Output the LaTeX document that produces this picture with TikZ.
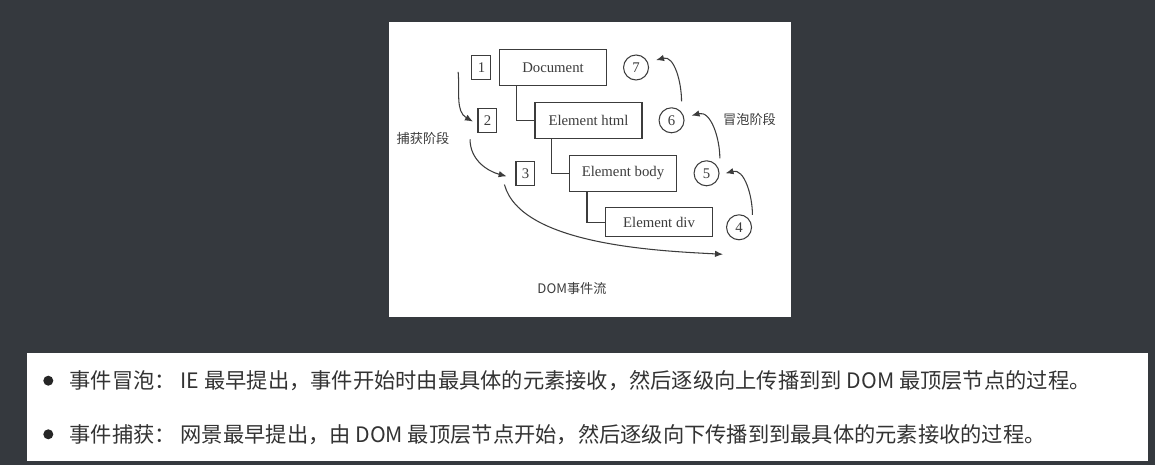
\documentclass[tikz,border=0pt]{standalone}
\usepackage{fontspec}
\setmainfont{Liberation Serif}
\newfontfamily\cjkfont{Noto Sans CJK SC}
\usetikzlibrary{arrows.meta,positioning,calc}
\definecolor{pagedark}{HTML}{35393E}
\definecolor{inkgray}{HTML}{333333}
\definecolor{linegray}{HTML}{3C3C3C}

\begin{document}
\begin{tikzpicture}[
  x=0.02cm, y=0.02cm,
  treebox/.style={draw=linegray, line width=0.6pt, minimum width=2.14cm, minimum height=0.72cm,
                  inner sep=0pt, font=\fontsize{8.4}{10}\selectfont, text=linegray},
  numbox/.style={draw=linegray, line width=0.6pt, minimum width=0.38cm, minimum height=0.47cm,
                 inner sep=0pt, font=\fontsize{8.4}{10}\selectfont, text=linegray},
  numcirc/.style={circle, draw=linegray, line width=0.6pt, minimum size=0.5cm,
                  inner sep=0pt, font=\fontsize{8.4}{10}\selectfont, text=linegray},
  phase/.style={inner sep=0pt, font=\cjkfont\fontsize{7.5}{9}\selectfont, text=linegray},
  flow/.style={-{Latex[length=1.6mm,width=1.3mm]}, line width=0.6pt, draw=linegray},
  link/.style={draw=linegray, line width=0.6pt},
  bullet/.style={circle, fill=black!85, minimum size=0.2cm, inner sep=0pt},
  note/.style={anchor=west, inner sep=0pt, font=\cjkfont\fontsize{12.1}{15}\selectfont, text=inkgray}
]
  % page and panels
  \fill[pagedark] (0,0) rectangle (1155,465);
  \fill[white] (389,148.3) rectangle (791,442.7);
  \fill[white] (27.3,4.3) rectangle (1147.7,112.3);

  % DOM tree
  \node[treebox] (doc) at (553,397.5) {Document};
  \node[treebox] (html) at (588.5,344.7) {Element html};
  \node[treebox] (body) at (623,291.7) {Element body};
  \node[treebox, minimum height=0.58cm] (div) at (659,242.7) {Element div};
  \draw[link] ($(doc.south west)+(17.6,0)$) |- (html.west);
  \draw[link] ($(html.south west)+(17.3,0)$) |- (body.west);
  \draw[link] ($(body.south west)+(18,0)$) |- (div.west);

  % capture steps
  \node[numbox, left=0.15cm of doc] (n1) {1};
  \node[numbox, left=0.74cm of html] (n2) {2};
  \node[numbox, left=0.67cm of body] (n3) {3};

  % bubble steps
  \node[numcirc, right=0.32cm of doc] (c7) {7};
  \node[numcirc, right=0.32cm of html] (c6) {6};
  \node[numcirc, right=0.33cm of body] (c5) {5};
  \node[numcirc, right=0.26cm of div, yshift=-0.1cm] (c4) {4};

  \coordinate (flowend) at (723,210.7);
  \draw[flow] ($(n1.west)+(-13.3,-4.3)$) to[out=-85,in=150] ($(n2.west)+(-4.5,-1.3)$);
  \draw[flow] ($(n2.south west)+(-7.4,-6.7)$) to[out=-90,in=165] ($(n3.west)+(-8.8,-3)$);
  \draw[flow] ($(n3.south west)+(-11,1)$) to[out=-75,in=177,looseness=0.7] (flowend);
  \draw[flow] ($(c4.center)+(13.4,12.4)$) to[out=90,in=15] ($(c5.center)+(19,0)$);
  \draw[flow] ($(c5.center)+(13.3,15)$) to[out=90,in=15] ($(c6.center)+(20,4.7)$);
  \draw[flow] ($(c6.center)+(10,19)$) to[out=90,in=15] ($(c7.center)+(20,7.4)$);

  \node[phase] (capture) at (423,326.5) {捕获阶段};
  \node[phase] (bubble) at (749.5,346) {冒泡阶段};
  \node[phase] (caption) at (572,176.5) {DOM事件流};

  % notes below
  \node[bullet] (dot1) at (48.3,84.3) {};
  \node[bullet] (dot2) at (48.3,30.7) {};
  \node[note] (bubbletext) at (69.3,84.3) {事件冒泡： IE 最早提出，事件开始时由最具体的元素接收，然后逐级向上传播到到 DOM 最顶层节点的过程。};
  \node[note] (capturetext) at (69.3,30.7) {事件捕获： 网景最早提出，由 DOM 最顶层节点开始，然后逐级向下传播到到最具体的元素接收的过程。};
\end{tikzpicture}
\end{document}
